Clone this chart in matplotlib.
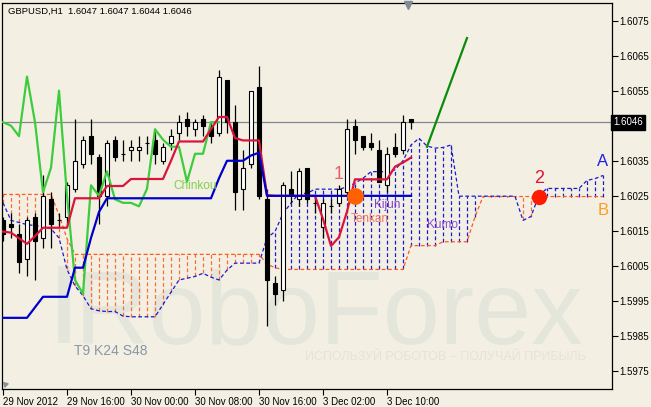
import matplotlib
matplotlib.use('Agg')
import matplotlib.pyplot as plt
import numpy as np
from matplotlib.patches import Rectangle

plt.rcParams['font.family'] = ['Liberation Sans', 'DejaVu Sans']

# GBPUSD H1 candles, bar 0 = 29 Nov 2012 08:00
opens = [1.6018, 1.6017, 1.6014, 1.6007, 1.6019, 1.6013, 1.6024, 1.6018, 1.6019, 1.6027,
         1.6034, 1.6042, 1.6036, 1.6025, 1.6041, 1.6037, 1.6038, 1.6038, 1.6040, 1.6041,
         1.6035, 1.6040, 1.6043, 1.6047, 1.6044, 1.6047, 1.6045, 1.6043, 1.6058, 1.6046,
         1.6027, 1.6034, 1.6056, 1.6024, 1.6000, 1.5998, 1.6027, 1.6024, 1.6033, 1.6023,
         1.6016, 1.6022, 1.6023, 1.6026, 1.6045, 1.6042, 1.6040, 1.6038, 1.6028, 1.6039,
         1.6038, 1.6047]
highs = [1.6019, 1.6020, 1.6017, 1.6019, 1.6020, 1.6031, 1.6026, 1.6020, 1.6029, 1.6047,
         1.6042, 1.6047, 1.6037, 1.6041, 1.6042, 1.6041, 1.6041, 1.6042, 1.6042, 1.6044,
         1.6040, 1.6044, 1.6048, 1.6049, 1.6047, 1.6048, 1.6046, 1.6061, 1.6058, 1.6051,
         1.6038, 1.6055, 1.6062, 1.6027, 1.6002, 1.6029, 1.6032, 1.6033, 1.6033, 1.6025,
         1.6024, 1.6024, 1.6028, 1.6047, 1.6047, 1.6042, 1.6043, 1.6041, 1.6039, 1.6043,
         1.6048, 1.6047]
lows = [1.6012, 1.6013, 1.6003, 1.6002, 1.6001, 1.6010, 1.6010, 1.6016, 1.6017, 1.6026,
        1.6033, 1.6034, 1.6017, 1.6022, 1.6035, 1.6035, 1.6035, 1.6035, 1.6037, 1.6034,
        1.6034, 1.6038, 1.6041, 1.6042, 1.6042, 1.6042, 1.6040, 1.6042, 1.6043, 1.6021,
        1.6021, 1.6033, 1.6024, 1.5988, 1.5994, 1.5995, 1.6023, 1.6022, 1.6023, 1.6020,
        1.6013, 1.6020, 1.6022, 1.6025, 1.6037, 1.6038, 1.6038, 1.6029, 1.6026, 1.6036,
        1.6037, 1.6044]
closes = [1.6014, 1.6016, 1.6006, 1.6018, 1.6012, 1.6025, 1.6017, 1.6018, 1.6028, 1.6035,
          1.6041, 1.6037, 1.6025, 1.6040, 1.6036, 1.6037, 1.6039, 1.6039, 1.6040, 1.6037,
          1.6039, 1.6042, 1.6046, 1.6045, 1.6046, 1.6045, 1.6042, 1.6059, 1.6046, 1.6026,
          1.6033, 1.6055, 1.6025, 1.6001, 1.5997, 1.6028, 1.6025, 1.6032, 1.6024, 1.6023,
          1.6023, 1.6022, 1.6027, 1.6044, 1.6041, 1.6039, 1.6039, 1.6029, 1.6037, 1.6037,
          1.6046, 1.6046]

# ichimoku lines (T9 K24 S48)
tenkan = ([1.60148, 1.60145, 1.60129, 1.60113, 1.60135] + [1.60159] * 4 + [1.60243] * 4
          + [1.60278] * 3 + [1.60298] * 5 + [1.60350] + [1.60405] * 4 + [1.60440]
          + [1.60475] * 2 + [1.60415] + [1.60408] * 3 + [1.60252] + [1.60250] * 6
          + [1.60184, 1.60107, 1.60132, 1.60205] + [1.60297] * 5 + [1.60333, 1.60345, 1.60359])
kijun = ([1.59902] * 4 + [1.59932] + [1.59962] * 4 + [1.60045] * 2 + [1.60130, 1.60204]
         + [1.60243] * 14 + [1.60300] + [1.60350] * 3 + [1.60365, 1.60373] + [1.60250] * 19)
senkou_a = ([1.60230, 1.60180, 1.60174, 1.60168, 1.60165, 1.60162, 1.60156, 1.60130,
             1.60040, 1.59993, 1.59965, 1.59928, 1.59922, 1.59920, 1.59920, 1.59907]
            + [1.59905] * 4
            + [1.59940, 1.59975, 1.60010, 1.60015, 1.60020, 1.60029, 1.60018, 1.60010, 1.60038]
            + [1.60058] * 4 + [1.60130, 1.60148, 1.60200, 1.60229] + [1.60257] * 2
            + [1.60269] * 4 + [1.60275, 1.60286, 1.60300] + [1.60319] * 3
            + [1.60324, 1.60350, 1.60395, 1.60414, 1.60392, 1.60386, 1.60388, 1.60395]
            + [1.60249] * 8 + [1.60180, 1.60191, 1.60252] + [1.60271] * 5
            + [1.60294, 1.60299, 1.60308])
senkou_b = ([1.60254] * 7 + [1.60195, 1.60128] + [1.60083] * 24 + [1.60055, 1.60045]
            + [1.60040] * 16 + [1.60108] * 4 + [1.60119] * 4 + [1.60190] + [1.60248] * 16)
chinkou_shift = 24

# hand drawn forecast line
forecast_x = [53, 58]
forecast_y = [1.6039, 1.6070]

# signal points
sig1_x, sig2_x = 44, 67

xtick_pos = [0, 8, 16, 24, 32, 40, 48]
xtick_labels = ['29 Nov 2012', '29 Nov 16:00', '30 Nov 00:00', '30 Nov 08:00',
                '30 Nov 16:00', '3 Dec 02:00', '3 Dec 10:00']
ytick_vals = [1.5975, 1.5985, 1.5995, 1.6005, 1.6015, 1.6025, 1.6035, 1.6055, 1.6065, 1.6075]
last_price = 1.6046

bg = '#f3f0e3'
W, H = 651, 407
fig = plt.figure(figsize=(W / 100, H / 100), dpi=100, facecolor=bg)
ax = fig.add_axes([2 / W, 18 / H, 610 / W, 386 / H], facecolor=bg)
ax.set_xlim(-0.125, 76.125)
ax.set_ylim(1.59699, 1.6080)

# watermark
ax.text(73 / 610, 0.118, 'RoboForex', transform=ax.transAxes, fontsize=74,
        color='#e5e6db', ha='left', va='baseline', zorder=0)
ax.add_patch(Rectangle((56 / 610, 0.118), 12 / 610, 77 / 386, transform=ax.transAxes,
                       facecolor='#e5e6db', edgecolor='none', zorder=0))
ax.text(303 / 610, 0.075, 'ИСПОЛЬЗУЙ РОБОТОВ – ПОЛУЧАЙ ПРИБЫЛЬ', transform=ax.transAxes,
        fontsize=9, color='#e3e4d9', ha='left', va='baseline', zorder=0)

# kumo hatching
xa = np.arange(len(senkou_a))
sa = np.array(senkou_a)
sb = np.array(senkou_b)
dash = (0, (3, 2))
up_cloud = sa >= sb
ax.vlines(xa[up_cloud], sb[up_cloud], sa[up_cloud], color='#1a1ad0', lw=0.9, linestyles=dash, zorder=1)
ax.vlines(xa[~up_cloud], sa[~up_cloud], sb[~up_cloud], color='#ff6a35', lw=0.9, linestyles=dash, zorder=1)
ax.plot(xa, sb, color='#ff5a1f', lw=0.9, ls=dash, zorder=1)
ax.plot(xa, sa, color='#1a1ad0', lw=0.9, ls=dash, zorder=1)

ax.axhline(last_price, color='#808890', lw=0.9, zorder=2)

# candles
x = np.arange(len(opens))
o, h, l, c = map(np.array, (opens, highs, lows, closes))
ax.vlines(x, l, h, color='black', lw=0.9, zorder=3)
bull = c >= o
lo = np.minimum(o, c)
hb = np.abs(c - o)
ax.bar(x[bull], hb[bull], bottom=lo[bull], width=0.62, color='white', edgecolor='black', lw=0.8, zorder=4)
ax.bar(x[~bull], hb[~bull], bottom=lo[~bull], width=0.62, color='black', edgecolor='black', lw=0.8, zorder=4)

# ichimoku lines
ax.plot(np.arange(len(closes) - chinkou_shift), closes[chinkou_shift:], color='#3ccc3c', lw=1.6, zorder=5)
ax.plot(x, tenkan, color='#dc143c', lw=1.6, zorder=5)
ax.plot(x, kijun, color='#0000cd', lw=1.6, zorder=6)
ax.plot(forecast_x, forecast_y, color='#0a8c0a', lw=1.6, zorder=6)

ax.plot(sig1_x, kijun[sig1_x], 'o', color='#ff6000', ms=11, zorder=7)
ax.plot(sig2_x, senkou_b[sig2_x], 'o', color='#ff1a00', ms=10, zorder=7)

# labels
ax.text(41.9, 1.6031, '1', color='#e8606a', fontsize=13, ha='center', va='center', zorder=8)
ax.text(67, 1.6030, '2', color='#dc143c', fontsize=13, ha='center', va='center', zorder=8)
ax.text(75, 1.60347, 'A', color='#2020e0', fontsize=12, ha='center', va='center', zorder=8)
ax.text(75, 1.60207, 'B', color='#ff9a20', fontsize=12, ha='center', va='center', zorder=8)
ax.text(48, 1.60224, 'Kijun', color='#8040d0', fontsize=8.5, ha='center', va='center', zorder=8)
ax.text(45.9, 1.60184, 'Tenkan', color='#f07060', fontsize=8.5, ha='center', va='center', zorder=8)
ax.text(55, 1.60167, 'Kumo', color='#8a4fd8', fontsize=8.5, ha='center', va='center', zorder=8)
ax.text(24, 1.60278, 'Chinkou', color='#7fd050', fontsize=8.5, ha='center', va='center', zorder=8)
ax.text(72 / 610, 38 / 386, 'T9 K24 S48', transform=ax.transAxes, color='#8898a8',
        fontsize=10, ha='left', va='center', zorder=8)
ax.text(6 / 610, 1 - 8 / 386, 'GBPUSD,H1  1.6047 1.6047 1.6044 1.6046', transform=ax.transAxes,
        fontsize=6.8, color='black', ha='left', va='center', zorder=8)

# chart shift marker and corner marker
ax.plot([50.6], [0.995], marker='v', color='#7f8a95', ms=6, transform=ax.get_xaxis_transform(),
        clip_on=False, zorder=9)
ax.plot([3 / 610], [5 / 386], marker=(3, 0, 45), color='#8a929a', ms=4, transform=ax.transAxes,
        clip_on=False, zorder=9)

# axes
for s in ax.spines.values():
    s.set_color('black')
    s.set_linewidth(0.9)
ax.yaxis.tick_right()
ax.set_yticks(ytick_vals)
ax.set_yticklabels(['%.4f' % v for v in ytick_vals])
ax.set_xticks(xtick_pos)
ax.set_xticklabels(xtick_labels)
for lab in ax.get_xticklabels():
    lab.set_ha('left')
ax.tick_params(axis='both', labelsize=7, length=4, width=0.8, color='black', pad=1.5)
ax.text(1.0016, last_price, '%.4f' % last_price, transform=ax.get_yaxis_transform(),
        fontsize=7, color='white', ha='left', va='center', clip_on=False, zorder=10,
        bbox=dict(boxstyle='square,pad=0.25', facecolor='black', edgecolor='black'))

fig.savefig('out.png', dpi=100, facecolor=bg)
